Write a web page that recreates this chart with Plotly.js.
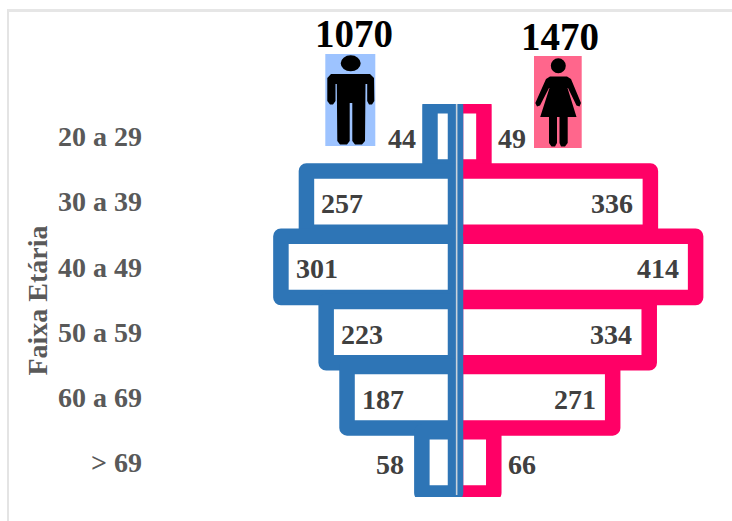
<!DOCTYPE html>
<html>
<head>
<meta charset="utf-8">
<script src="https://cdn.plot.ly/plotly-3.0.1.min.js"></script>
<style>
html,body{margin:0;padding:0;background:#fff;overflow:hidden}
#frame{position:absolute;left:7px;top:9px;right:0;bottom:0;border-left:2px solid #e4e4e4;border-top:3px solid #e6e6e6}
#chart{position:absolute;left:0;top:0;width:732px;height:521px}
.bars .point path{stroke-linejoin:round}
</style>
</head>
<body>
<div id="frame"></div>
<div id="chart"></div>
<script>
const categories = ['20 a 29','30 a 39','40 a 49','50 a 59','60 a 69','> 69'];
const homens = [44,257,301,223,187,58];
const mulheres = [49,336,414,334,271,66];
const totalHomens = '1070';
const totalMulheres = '1470';
const axisTitle = 'Faixa Etária';

const W=732,H=521,L=146,R=12,T=104,B=24;
const pw=W-L-R, ph=H-T-B, ZERO=455.5, SCALE=0.58;
const px=x=>(x-L)/pw, py=y=>1-(y-T)/ph;
const serif='"Liberation Serif","Times New Roman",serif';

function pathShape(points,fill){
  const d=points.map(seg=>seg.map((p,i)=>(i?'L':'M')+px(p[0])+','+py(p[1])).join(' ')+' Z').join(' ');
  return {type:'path',xref:'paper',yref:'paper',path:d,fillcolor:fill,line:{width:0},layer:'above'};
}
function rectShape(x0,y0,x1,y1,fill){
  return {type:'rect',xref:'paper',yref:'paper',x0:px(x0),x1:px(x1),y0:py(y0),y1:py(y1),fillcolor:fill,line:{width:0},layer:'above'};
}
function circleShape(x0,y0,x1,y1,fill){
  return {type:'circle',xref:'paper',yref:'paper',x0:px(x0),x1:px(x1),y0:py(y0),y1:py(y1),fillcolor:fill,line:{width:0},layer:'above'};
}

const man=[[[331,74],[370,74],[374,78],[374.3,101],[372,104.5],[369,104.5],[367.2,101],[367.2,84],[365.5,84],[365,141],[362,144.5],[355,144.5],[352.3,141],[352.3,103],[349.7,103],[349.7,141],[347,144.5],[340,144.5],[337.3,141],[336.8,84],[335.5,84],[335.5,101],[333,104.5],[330,104.5],[327.3,101],[327.3,78]]];
const woman=[[[550,76.5],[567,76.5],[571,79],[581,103],[579.5,106.5],[576.5,105.5],[568,88],[567.5,88],[576.5,117],[567.7,117],[567.7,143],[565,146.5],[561,146.5],[559.5,143],[559.5,117],[557,117],[557,143],[555,146.5],[551.5,146.5],[549,143],[549,117],[540.2,117],[549.5,88],[549,88],[540,105.5],[537,106.5],[535.3,103],[546,79]]];

const shapes=[
  {type:'line',xref:'x',yref:'paper',x0:2,x1:2,y0:py(104),y1:py(495),line:{color:'#c9d2dc',width:1.6},layer:'above'},
  rectShape(325.3,54,375.3,146,'#9dc3ff'),
  circleShape(340.7,55.3,360.7,71.3,'#000'),
  pathShape(man,'#000'),
  rectShape(534,56,581.7,148,'#ff668c'),
  circleShape(550.8,58.2,565.8,73.2,'#000'),
  pathShape(woman,'#000')
];

const valueFont={family:serif,size:28,color:'#404040',weight:'bold'};
const annotations=[];
categories.forEach((c,i)=>{
  annotations.push({x:-homens[i],y:c,text:String(homens[i]),showarrow:false,font:valueFont,
    xshift:homens[i]<100?(homens[i]<50?-28:-32):36,yshift:-2,xanchor:'center',yanchor:'middle'});
  annotations.push({x:mulheres[i],y:c,text:String(mulheres[i]),showarrow:false,font:valueFont,
    xshift:mulheres[i]<100?28:-38,yshift:-2,xanchor:'center',yanchor:'middle'});
});
annotations.push({xref:'paper',yref:'paper',x:px(354),y:py(33),text:totalHomens,showarrow:false,xanchor:'center',yanchor:'middle',font:{family:serif,size:39,color:'#000',weight:'bold'}});
annotations.push({xref:'paper',yref:'paper',x:px(560),y:py(36),text:totalMulheres,showarrow:false,xanchor:'center',yanchor:'middle',font:{family:serif,size:39,color:'#000',weight:'bold'}});

const data=[
 {type:'bar',orientation:'h',y:categories,x:mulheres,width:0.94,marker:{color:'#fff',line:{color:'#ff0066',width:15.5}},hoverinfo:'skip'},
 {type:'bar',orientation:'h',y:categories,x:homens.map(v=>-v),width:0.94,marker:{color:'#fff',line:{color:'#2e75b6',width:15.5}},hoverinfo:'skip'}
];
const layout={
 width:W,height:H,margin:{l:L,r:R,t:T,b:B},
 paper_bgcolor:'rgba(0,0,0,0)',plot_bgcolor:'rgba(0,0,0,0)',
 barmode:'overlay',showlegend:false,
 xaxis:{range:[(L-ZERO)/SCALE,(W-R-ZERO)/SCALE],visible:false,showgrid:false,zeroline:false},
 yaxis:{type:'category',categoryorder:'array',categoryarray:categories,range:[5.53,-0.497],
   showgrid:false,zeroline:false,showline:false,ticks:'',ticklen:0,ticklabelstandoff:3,
   tickfont:{family:serif,size:28,color:'#595959',weight:'bold'},
   title:{text:axisTitle,standoff:2,font:{family:serif,size:28,color:'#595959',weight:'bold'}}},
 shapes,annotations
};
Plotly.newPlot('chart',data,layout,{displayModeBar:false,staticPlot:true});
</script>
</body>
</html>
